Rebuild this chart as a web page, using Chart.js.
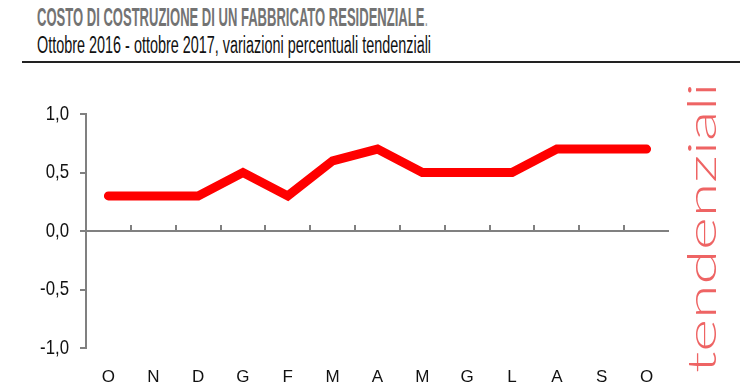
<!DOCTYPE html>
<html>
<head>
<meta charset="utf-8">
<script src="https://cdn.jsdelivr.net/npm/chart.js@4.4.1/dist/chart.umd.min.js"></script>
<style>
  html, body { margin: 0; padding: 0; background: #fff; }
  body { width: 740px; height: 389px; position: relative; overflow: hidden; }
  #title { position: absolute; left: 37px; top: 3px; font-family: "Liberation Sans", sans-serif; font-weight: bold; font-size: 25px; color: #737373; white-space: nowrap; transform-origin: 0 0; }
  #title span { font-weight: normal; color: #9a9a9a; }
  #subtitle { position: absolute; left: 37px; top: 32px; font-family: "Liberation Sans", sans-serif; font-size: 23px; color: #111; white-space: nowrap; transform-origin: 0 0; }
  #rule { position: absolute; left: 22px; top: 61px; width: 718px; height: 2px; background: #222; }
  #side { position: absolute; left: 701px; top: 228px; font-family: Lato, "Open Sans", sans-serif; font-weight: 300; font-size: 40px; color: rgba(232, 40, 40, 0.72); white-space: nowrap; line-height: 1; }
  #wrap { position: absolute; left: 0; top: 0; width: 740px; height: 389px; }
</style>
</head>
<body>
<div id="title">COSTO DI COSTRUZIONE DI UN FABBRICATO RESIDENZIALE<span>.</span></div>
<div id="subtitle">Ottobre 2016 - ottobre 2017, variazioni percentuali tendenziali</div>
<div id="rule"></div>
<div id="side">tendenziali</div>
<div id="wrap"><canvas id="chart" width="740" height="389"></canvas></div>
<script>
const months = ["O", "N", "D", "G", "F", "M", "A", "M", "G", "L", "A", "S", "O"];
const variations = [0.3, 0.3, 0.3, 0.5, 0.3, 0.6, 0.7, 0.5, 0.5, 0.5, 0.7, 0.7, 0.7];
const yTicks = [-1.0, -0.5, 0.0, 0.5, 1.0];

const axisGrey = "#808080";

// squeeze html text blocks to the widths of the narrow font in the original
function fitWidth(id, w) {
    const el = document.getElementById(id);
    el.style.transform = "scaleX(" + (w / el.offsetWidth) + ")";
}
fitWidth("title", 391);
fitWidth("subtitle", 394);

const side = document.getElementById("side");
side.style.transform = "translate(-50%, -50%) rotate(-90deg) scaleX(" + (290 / side.offsetWidth) + ")";

// small upward tick marks on the zero line, between categories
const zeroTicks = {
    id: "zeroTicks",
    beforeDatasetsDraw(chart) {
        const x = chart.scales.x, y = chart.scales.y;
        const y0 = y.getPixelForValue(0);
        const c = chart.ctx;
        c.save();
        c.strokeStyle = axisGrey;
        c.lineWidth = 2;
        c.beginPath();
        for (let i = 0; i < months.length - 1; i++) {
            const px = Math.round((x.getPixelForValue(i) + x.getPixelForValue(i + 1)) / 2);
            c.moveTo(px, y0);
            c.lineTo(px, y0 - 6);
        }
        c.stroke();
        c.restore();
    }
};

new Chart(document.getElementById("chart").getContext("2d"), {
    type: "line",
    data: {
        labels: months,
        datasets: [{
            data: variations,
            borderColor: "#ff0000",
            borderWidth: 9,
            borderCapStyle: "round",
            borderJoinStyle: "miter",
            pointRadius: 0,
            tension: 0
        }]
    },
    options: {
        responsive: false,
        animation: false,
        layout: { padding: { top: 114, right: 71, left: 0, bottom: 0 } },
        plugins: { legend: { display: false }, tooltip: { enabled: false } },
        scales: {
            x: {
                offset: true,
                grid: { display: false },
                border: { display: false },
                ticks: { color: "#111", padding: 11, font: { family: "'Liberation Sans', sans-serif", size: 17 }, maxRotation: 0 },
                afterFit(s) { s.height = 41; }
            },
            y: {
                min: -1, max: 1,
                afterBuildTicks(s) { s.ticks = yTicks.map(v => ({ value: v })); },
                grid: {
                    color: ctx => ctx.tick && ctx.tick.value === 0 ? axisGrey : "rgba(0,0,0,0)",
                    tickColor: axisGrey,
                    tickLength: 6,
                    lineWidth: 2
                },
                border: { display: true, color: axisGrey, width: 2 },
                ticks: {
                    color: "#111",
                    padding: 11,
                    font: { family: "'Liberation Sans', sans-serif", size: 21 },
                    callback: v => v.toFixed(1).replace(".", ",")
                },
                afterFit(s) { s.width = 86; },
                afterUpdate(s) {
                    // condense the tick labels horizontally, anchored at their right edge
                    if (s._narrowed) return;
                    s._narrowed = true;
                    const orig = s.drawLabels;
                    s.drawLabels = function (area) {
                        const c = this.ctx;
                        const xr = this.right - 6 - 11;
                        c.save();
                        c.translate(xr, 0);
                        c.scale(0.8, 1);
                        c.translate(-xr, 0);
                        orig.call(this, area);
                        c.restore();
                    };
                }
            }
        }
    },
    plugins: [zeroTicks]
});
</script>
</body>
</html>
